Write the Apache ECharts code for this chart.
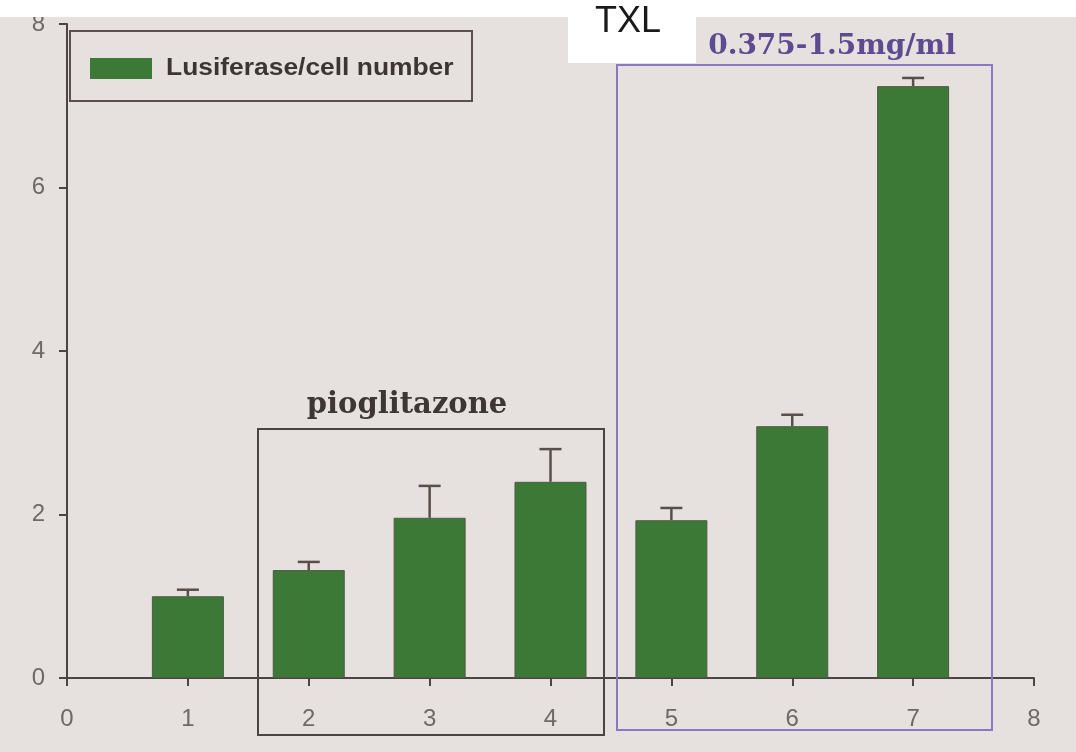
<!DOCTYPE html>
<html>
<head>
<meta charset="utf-8">
<script src="https://cdn.jsdelivr.net/npm/echarts@6/dist/echarts.min.js"></script>
<style>
  html, body { margin: 0; padding: 0; background: #e6e1df; }
  #chart { width: 1076px; height: 752px; }
</style>
</head>
<body>
<div id="chart"></div>
<script>
// group positions on the x axis
const groups = [1, 2, 3, 4, 5, 6, 7];
// Lusiferase / cell number
const means = [1.0, 1.32, 1.96, 2.4, 1.93, 3.08, 7.24];
// upper end of error bars
const errTops = [1.08, 1.42, 2.35, 2.8, 2.08, 3.22, 7.34];
const yTicks = [0, 2, 4, 6, 8];

const chart = echarts.init(document.getElementById('chart'));

const barData = groups.map((g, i) => [g, means[i]]);
const errData = groups.map((g, i) => [g, means[i], errTops[i]]);

const option = {
  backgroundColor: '#e6e1df',
  animation: false,
  grid: { left: 67, right: 42, top: 24, bottom: 74 },
  xAxis: {
    type: 'value',
    min: 0, max: 8, interval: 1,
    splitLine: { show: false },
    axisLine: { lineStyle: { color: '#4b4443', width: 2 } },
    axisTick: { length: 8, lineStyle: { color: '#4b4443', width: 2 } },
    axisLabel: { color: '#6e6867', fontSize: 24, margin: 29, fontFamily: 'Liberation Sans' }
  },
  yAxis: {
    type: 'value',
    min: 0, max: 8, interval: 2,
    splitLine: { show: false },
    axisLine: { show: true, lineStyle: { color: '#4b4443', width: 2 } },
    axisTick: { show: true, length: 8, lineStyle: { color: '#4b4443', width: 2 } },
    axisLabel: {
      color: '#6e6867', fontSize: 24, margin: 22, fontFamily: 'Liberation Sans',
      formatter: v => yTicks.includes(v) ? String(v) : ''
    }
  },
  series: [
    {
      name: 'Lusiferase/cell number',
      type: 'bar',
      data: barData,
      barWidth: 72,
      itemStyle: { color: '#3c7836', borderColor: '#4f5a45', borderWidth: 1 },
      z: 3
    },
    {
      type: 'custom',
      data: errData,
      z: 4,
      renderItem: (params, api) => {
        const x = api.value(0);
        const base = api.coord([x, api.value(1)]);
        const top = api.coord([x, api.value(2)]);
        const cap = 11;
        const style = { stroke: '#5a4e4a', lineWidth: 2.5 };
        return {
          type: 'group',
          children: [
            { type: 'line', shape: { x1: base[0], y1: base[1], x2: top[0], y2: top[1] }, style },
            { type: 'line', shape: { x1: top[0] - cap, y1: top[1], x2: top[0] + cap, y2: top[1] }, style }
          ]
        };
      }
    }
  ],
  graphic: [
    // white strip along the top edge of the scan
    { type: 'rect', shape: { x: 0, y: 0, width: 1076, height: 17 }, style: { fill: '#ffffff' }, z: 50 },
    // legend box
    { type: 'rect', shape: { x: 70, y: 31, width: 402, height: 70 }, style: { fill: 'none', stroke: '#5b504d', lineWidth: 2 }, z: 10 },
    { type: 'rect', shape: { x: 90, y: 58, width: 62, height: 21 }, style: { fill: '#3c7836' }, z: 10 },
    { type: 'text', x: 166, y: 68, scaleX: 1.1, style: { text: 'Lusiferase/cell number', font: 'bold 24px "Liberation Sans"', fill: '#3c3533', verticalAlign: 'middle' }, z: 10 },
    // pioglitazone group
    { type: 'rect', shape: { x: 258, y: 429, width: 346, height: 306 }, style: { fill: 'none', stroke: '#4b4443', lineWidth: 2 }, z: 10 },
    { type: 'text', x: 407, y: 405, style: { text: 'pioglitazone', font: 'bold 29px "DejaVu Serif"', fill: '#3d3634', align: 'center', verticalAlign: 'middle' }, z: 10 },
    // TXL group
    { type: 'rect', shape: { x: 617, y: 65, width: 375, height: 665 }, style: { fill: 'none', stroke: '#8a78c4', lineWidth: 2 }, z: 10 },
    { type: 'text', x: 832, y: 47, style: { text: '0.375-1.5mg/ml', font: 'bold 28px "DejaVu Serif"', fill: '#5e4a90', align: 'center', verticalAlign: 'middle' }, z: 10 },
    { type: 'rect', shape: { x: 568, y: 0, width: 128, height: 63 }, style: { fill: '#ffffff' }, z: 60 },
    { type: 'text', x: 628, y: 22, style: { text: 'TXL', font: '36px "Liberation Sans"', fill: '#1a1a1a', align: 'center', verticalAlign: 'middle' }, z: 61 }
  ]
};

chart.setOption(option);
window.addEventListener('resize', () => {
  chart.resize();
});
</script>
</body>
</html>
